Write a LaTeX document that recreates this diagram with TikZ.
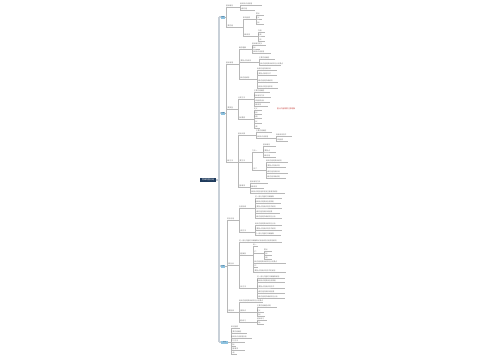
\documentclass[tikz,border=0pt]{standalone}
\usepackage{fontspec}
\newfontfamily\cjk{Noto Sans CJK SC}
\definecolor{rootblue}{HTML}{1E3A5C}
\definecolor{topicblue}{HTML}{8EC3E0}
\definecolor{linegray}{HTML}{B8B8B8}
\definecolor{trunkgray}{HTML}{C8D0D8}
\definecolor{notered}{HTML}{C8403C}
\definecolor{leaftext}{HTML}{707070}
\newcommand{\mmlink}[2]{\draw[link] (#1.south west) -- (#1.south west -| #2.south west) |- (#2.south west) -- (#2.south east);}
\newcommand{\toplink}[2]{\draw[link] (#1.east) -- (#1.east -| #2.south west) |- (#2.south west) -- (#2.south east);}
\tikzset{
    leaf/.style={anchor=south west,inner xsep=0pt,inner ysep=0.25pt,align=left,font=\cjk\fontsize{1.7}{2}\selectfont,text=leaftext},
    link/.style={draw=linegray,line width=0.35pt},
    trunk/.style={draw=trunkgray,line width=1.4pt},
    topic/.style={fill=topicblue,inner sep=0pt,minimum width=4pt,minimum height=3pt,font=\cjk\fontsize{1.3}{1.5}\selectfont,text=rootblue},
    rootbox/.style={fill=rootblue,inner sep=0pt,minimum width=16pt,minimum height=4.5pt,font=\cjk\fontsize{2}{2.2}\selectfont,text=white},
    note/.style={anchor=south west,inner xsep=0pt,inner ysep=0.25pt,font=\cjk\fontsize{1.8}{2}\selectfont,text=notered},
}
\begin{document}
\begin{tikzpicture}[x=1pt,y=-1pt]
    \fill[white] (0,0) rectangle (500,360);

    % root and main topics
    \node[rootbox] (root) at (208,180) {思维导图总结};
    \node[topic] (A) at (223,17) {概述};
    \node[topic] (B) at (223,113) {内容};
    \node[topic] (C) at (223,266) {应用};
    \node[topic,minimum width=7pt] (D) at (224.5,342) {总结};

    \coordinate (trunktop) at (219,17);
    \coordinate (trunkbot) at (219,342);
    \draw[trunk] (trunktop) -- (trunkbot);
    \draw[trunk] (root.east) -- (root.east -| trunktop);
    \foreach \t in {A,B,C,D}
        \draw[trunk] (\t.west -| trunktop) -- (\t.west);

    % first topic
    \node[leaf,text width=14pt] (A1) at (226,7) {基本概念};
    \node[leaf,text width=17pt] (A2) at (226,27) {主要内容};
    \toplink{A}{A1}
    \toplink{A}{A2}
    \node[leaf,text width=22pt] (a1-1) at (240,5.5) {相关知识点梳理};
    \node[leaf,text width=15pt] (a1-2) at (240,10) {发展过程};
    \mmlink{A1}{a1-1}
    \mmlink{A1}{a1-2}
    \node[leaf,text width=13pt] (A2a) at (243,19) {影响因素};
    \node[leaf,text width=15pt] (A2b) at (243,36) {具体表现};
    \mmlink{A2}{A2a}
    \mmlink{A2}{A2b}
    \foreach \y/\w/\t [count=\i] in {15/8/要点,19/6/定义,24/8/特点} {
        \node[leaf,text width=\w pt] (a2a-\i) at (256,\y) {\t};
        \mmlink{A2a}{a2a-\i}
    }
    \foreach \y/\w/\t [count=\i] in {32/7/作用,36/7/分类,41/7/方法} {
        \node[leaf,text width=\w pt] (a2b-\i) at (258,\y) {\t};
        \mmlink{A2b}{a2b-\i}
    }

    % second topic
    \node[leaf,text width=13pt] (BA) at (226,64) {基本原理};
    \node[leaf,text width=12pt] (BB) at (226,109) {主要类型};
    \node[leaf,text width=12pt] (BC) at (226,162) {具体方法};
    \toplink{B}{BA}
    \toplink{B}{BB}
    \toplink{B}{BC}

    \node[leaf,text width=13pt] (B1) at (239,49) {概念理解};
    \node[leaf,text width=20pt] (B2) at (239,62) {主要特点及表现};
    \node[leaf,text width=18pt] (B3) at (239,79) {相关内容说明};
    \foreach \n in {B1,B2,B3} {
        \mmlink{BA}{\n}
    }
    \foreach \y/\w/\t [count=\i] in {45/14/基本概念定义,49/8/特点,53/19/相关知识点梳理} {
        \node[leaf,text width=\w pt] (b1-\i) at (252,\y) {\t};
        \mmlink{B1}{b1-\i}
    }
    \foreach \y/\w/\t [count=\i] in {59/16/主要内容概述,65/22/相关内容的具体说明与分析要点} {
        \node[leaf,text width=\w pt] (b2-\i) at (259,\y) {\t};
        \mmlink{B2}{b2-\i}
    }
    \foreach \y/\w/\t [count=\i] in {70/20/发展过程及其影响,75/20/主要特点表现形式,82/21/具体内容的详细说明,88/21/相关知识的应用举例} {
        \node[leaf,text width=\w pt] (b3-\i) at (257,\y) {\t};
        \mmlink{B3}{b3-\i}
    }

    \node[leaf,text width=16pt] (BB1) at (238,99) {分类方法};
    \node[leaf,text width=16pt] (BB2) at (238,119) {基本要素};
    \mmlink{BB}{BB1}
    \mmlink{BB}{BB2}
    \foreach \y/\w/\t [count=\i] in {92/16/主要内容概述,97/17/基本原则方法,102/16/影响因素分析,106/14/具体表现} {
        \node[leaf,text width=\w pt] (bb1-\i) at (254,\y) {\t};
        \mmlink{BB1}{bb1-\i}
    }
    \foreach \y/\w/\t [count=\i] in {110/8/定义,114/8/特点,118/8/作用,123/8/意义,128/6/分类} {
        \node[leaf,text width=\w pt] (bb2-\i) at (254,\y) {\t};
        \mmlink{BB2}{bb2-\i}
    }
    \node[note] (tip) at (277,110) {重点内容需要注意理解};

    \node[leaf,text width=18pt] (BC1) at (238,135) {基本步骤};
    \node[leaf,text width=14pt] (BC2) at (238,162) {主要方法};
    \node[leaf,text width=12pt] (BC3) at (238,187) {注意事项};
    \foreach \n in {BC1,BC2,BC3} {
        \mmlink{BC}{\n}
    }
    \node[leaf,text width=16pt] (bc1-1) at (256,132) {主要内容概述};
    \node[leaf,text width=20pt] (bc1-2) at (256,138) {相关知识点梳理};
    \mmlink{BC1}{bc1-1}
    \mmlink{BC1}{bc1-2}
    \node[leaf,text width=16pt] (bc12-1) at (276,136) {具体表现形式};
    \node[leaf,text width=12pt] (bc12-2) at (276,141) {影响因素};
    \mmlink{bc1-2}{bc12-1}
    \mmlink{bc1-2}{bc12-2}
    \node[leaf,text width=11pt] (BC2a) at (252,152) {方法一};
    \node[leaf,text width=14pt] (BC2b) at (252,170) {方法二};
    \mmlink{BC2}{BC2a}
    \mmlink{BC2}{BC2b}
    \foreach \y/\t [count=\i] in {146/基本概念,152/主要特点,157/具体应用} {
        \node[leaf,text width=13pt] (bc2a-\i) at (263,\y) {\t};
        \mmlink{BC2a}{bc2a-\i}
    }
    \foreach \y/\w/\t [count=\i] in {162/22/相关内容的具体说明,167/20/主要特点及其表现,173/22/发展过程及其影响,178/20/具体内容详细说明} {
        \node[leaf,text width=\w pt] (bc2b-\i) at (266,\y) {\t};
        \mmlink{BC2b}{bc2b-\i}
    }
    \foreach \y/\w/\t [count=\i] in {183/18/基本原则方法,188/14/具体表现,193/35/相关知识的应用举例及注意事项说明} {
        \node[leaf,text width=\w pt] (bc3-\i) at (250,\y) {\t};
        \mmlink{BC3}{bc3-\i}
    }

    % third topic
    \node[leaf,text width=12pt] (CA) at (227,220) {实际应用};
    \node[leaf,text width=12pt] (CB) at (227,265) {案例分析};
    \node[leaf,text width=12pt] (CC) at (227,312) {拓展延伸};
    \toplink{C}{CA}
    \toplink{C}{CB}
    \toplink{C}{CC}

    \node[leaf,text width=16pt] (CA1) at (239,208) {应用领域};
    \node[leaf,text width=16pt] (CA2) at (239,232) {应用方法};
    \mmlink{CA}{CA1}
    \mmlink{CA}{CA2}
    \foreach \y/\w/\t [count=\i] in {198/27/这一部分内容的详细解释,203/26/相关知识的具体应用举例,208/27/主要特点及其表现形式说明,213/25/发展过程及其影响因素,218/27/具体内容的详细说明与分析} {
        \node[leaf,text width=\w pt] (ca1-\i) at (255,\y) {\t};
        \mmlink{CA1}{ca1-\i}
    }
    \foreach \y/\w/\t [count=\i] in {225/27/相关内容的具体说明与分析,230/27/主要特点及其表现形式说明,235/26/这一部分内容的详细解释} {
        \node[leaf,text width=\w pt] (ca2-\i) at (255,\y) {\t};
        \mmlink{CA2}{ca2-\i}
    }

    \node[leaf,text width=43pt] (CB1) at (239,242) {这一部分内容的详细解释以及相关的应用举例说明};
    \node[leaf,text width=14pt] (CB2) at (239,255) {典型案例};
    \node[leaf,text width=18pt] (CB3) at (239,288) {分析方法};
    \foreach \n in {CB1,CB2,CB3} {
        \mmlink{CB}{\n}
    }
    \node[leaf,text width=5pt] (cb2-1) at (253,246) {例一};
    \node[leaf,text width=11pt] (cb2-2) at (253,253) {例二};
    \node[leaf,text width=33pt] (cb2-3) at (253,263) {相关内容的具体说明与分析要点};
    \node[leaf,text width=5pt] (cb2-4) at (253,267) {例三};
    \node[leaf,text width=33pt] (cb2-5) at (253,272) {主要特点及其表现形式的说明};
    \foreach \i in {1,...,5} {
        \mmlink{CB2}{cb2-\i}
    }
    \foreach \y/\t [count=\i] in {251/要点,255/特点,259/作用} {
        \node[leaf,text width=8pt] (cb22-\i) at (264,\y) {\t};
        \mmlink{cb2-2}{cb22-\i}
    }
    \foreach \y/\t [count=\i] in {278/这一部分内容的详细解释说明,282/相关知识的具体应用举例,288/主要特点及其表现形式,293/发展过程及其影响因素,298/具体内容的详细说明与分析} {
        \node[leaf,text width=28pt] (cb3-\i) at (257,\y) {\t};
        \mmlink{CB3}{cb3-\i}
    }

    \node[leaf,text width=24pt] (CC1) at (239,302) {相关内容的具体说明与分析要点};
    \node[leaf,text width=18pt] (CC2) at (239,312) {拓展知识};
    \node[leaf,text width=18pt] (CC3) at (239,322) {课后练习};
    \foreach \n in {CC1,CC2,CC3} {
        \mmlink{CC}{\n}
    }
    \foreach \y/\w/\t [count=\i] in {307/20/主要内容概述说明,312/7/定义,316/8/特点} {
        \node[leaf,text width=\w pt] (cc2-\i) at (257,\y) {\t};
        \mmlink{CC2}{cc2-\i}
    }
    \foreach \y/\w/\t [count=\i] in {320/10/基本练习,324/7/作业} {
        \node[leaf,text width=\w pt] (cc3-\i) at (257,\y) {\t};
        \mmlink{CC3}{cc3-\i}
    }

    % fourth topic
    \foreach \y/\w/\t [count=\i] in {328/9/知识回顾,333/16/主要内容概述,338/21/相关知识点梳理总结,342/14/学习方法,346/5/要点,350/14/注意事项,354/6/小结} {
        \node[leaf,text width=\w pt] (d-\i) at (231,\y) {\t};
        \toplink{D}{d-\i}
    }
\end{tikzpicture}
\end{document}
